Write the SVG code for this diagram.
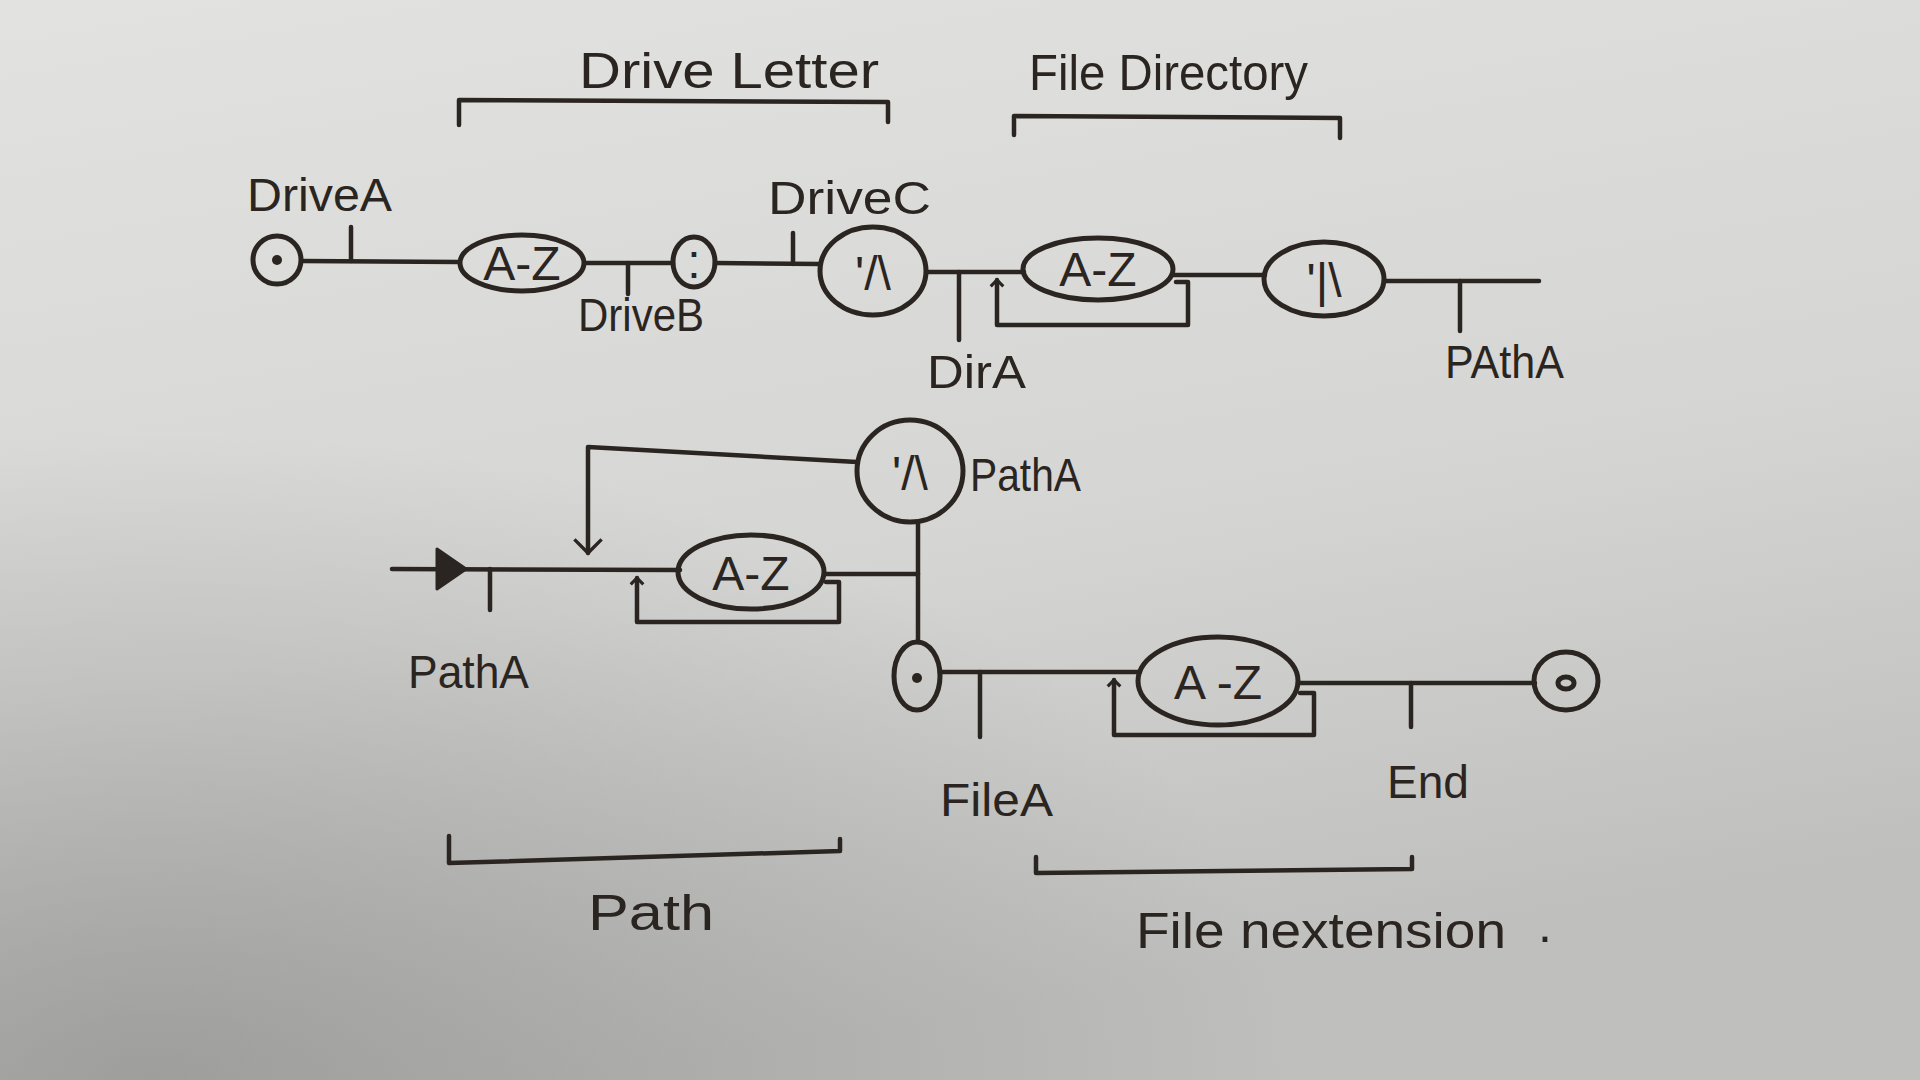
<svg xmlns="http://www.w3.org/2000/svg" width="1920" height="1080" viewBox="0 0 1920 1080">
<defs>
<linearGradient id="paper" x1="0" y1="0" x2="0.3" y2="1">
<stop offset="0" stop-color="#e2e2e0"/>
<stop offset="0.6" stop-color="#d5d5d3"/>
<stop offset="1" stop-color="#bfbfbd"/>
</linearGradient>
<radialGradient id="shade" cx="0.08" cy="1" r="0.6">
<stop offset="0" stop-color="#8a8a88" stop-opacity="0.65"/>
<stop offset="1" stop-color="#8a8a88" stop-opacity="0"/>
</radialGradient>
<marker id="up" viewBox="0 0 20 20" refX="10" refY="10" markerWidth="18" markerHeight="18" markerUnits="userSpaceOnUse" orient="auto">
<path d="M3,3 L10,10 L3,17" fill="none" stroke="#2b2521" stroke-width="3.5"/>
</marker>
<marker id="down" viewBox="0 0 20 20" refX="10" refY="10" markerWidth="34" markerHeight="34" markerUnits="userSpaceOnUse" orient="auto">
<path d="M2,2 L10,10 L2,18" fill="none" stroke="#2b2521" stroke-width="2"/>
</marker>
<style>
.ln{fill:none;stroke:#2b2521;stroke-width:4.5;stroke-linecap:round;stroke-linejoin:round}
.nd{fill:none;stroke:#2b2521;stroke-width:5}
.dot{fill:#2b2521}
.t{font-family:"Liberation Sans","DejaVu Sans",sans-serif;fill:#2b2521}
.lb{font-size:46px}
.in{font-size:48px;text-anchor:middle}
.hd{font-size:50px}
</style>
</defs>
<rect width="1920" height="1080" fill="url(#paper)"/>
<rect width="1920" height="1080" fill="url(#shade)"/>

<g id="connectors">
<path class="ln" d="M301,261 L459,262"/>
<path class="ln" d="M351,227 L351,261"/>
<path class="ln" d="M585,263 L673,263"/>
<path class="ln" d="M628,263 L628,294"/>
<path class="ln" d="M715,263 L820,264"/>
<path class="ln" d="M793,233 L793,264"/>
<path class="ln" d="M927,272 L1024,272"/>
<path class="ln" d="M959,272 L959,340"/>
<path class="ln" marker-end="url(#up)" d="M1176,282 L1188,282 L1188,325 L997,325 L997,280"/>
<path class="ln" d="M1173,275 L1265,275"/>
<path class="ln" d="M1384,281 L1539,281"/>
<path class="ln" d="M1460,281 L1460,331"/>
<path class="ln" d="M459,125 L459,100 L888,102 L888,122"/>
<path class="ln" d="M1014,135 L1014,116 L1340,118 L1340,138"/>
<path class="ln" marker-end="url(#down)" d="M857,462 L588,447 L588,553"/>
<path class="ln" d="M392,569 L680,570"/>
<polygon points="437,549 466,569 437,589" fill="#2b2521" stroke="#2b2521" stroke-width="3" stroke-linejoin="round"/>
<path class="ln" d="M490,569 L490,610"/>
<path class="ln" marker-end="url(#up)" d="M826,582 L839,582 L839,622 L637,622 L637,578"/>
<path class="ln" d="M824,574 L918,574"/>
<path class="ln" d="M918,523 L918,642"/>
<path class="ln" d="M940,672 L1140,672"/>
<path class="ln" d="M980,672 L980,737"/>
<path class="ln" marker-end="url(#up)" d="M1300,693 L1314,693 L1314,735 L1114,735 L1114,680"/>
<path class="ln" d="M1298,683 L1535,683"/>
<path class="ln" d="M1411,683 L1411,727"/>
<path class="ln" d="M449,836 L449,863 L840,851 L840,839"/>
<path class="ln" d="M1036,857 L1036,873 L1412,869 L1412,857"/>
</g>

<g id="start-top">
<ellipse class="nd" cx="277" cy="260" rx="24" ry="24"/>
<circle class="dot" cx="277" cy="260" r="5"/>
</g>
<g id="az-drive">
<ellipse class="nd" cx="522" cy="263" rx="62" ry="28"/>
<text class="t in" x="522" y="280" font-size="44">A-Z</text>
</g>
<g id="colon">
<ellipse class="nd" cx="694" cy="262" rx="21" ry="25"/>
<text class="t in" x="694" y="278">:</text>
</g>
<g id="sep-drive">
<ellipse class="nd" cx="873" cy="271" rx="53" ry="44"/>
<text class="t in" x="873" y="290" font-size="52">'/\</text>
</g>
<g id="az-dir">
<ellipse class="nd" cx="1098" cy="269" rx="75" ry="31"/>
<text class="t in" x="1098" y="286">A-Z</text>
</g>
<g id="sep-dir">
<ellipse class="nd" cx="1324" cy="279" rx="60" ry="37"/>
<text class="t in" x="1324" y="297" font-size="50">'|\</text>
</g>
<g id="sep-path">
<ellipse class="nd" cx="910" cy="471" rx="53" ry="51"/>
<text class="t in" x="910" y="490" font-size="54">'/\</text>
</g>
<g id="az-path">
<ellipse class="nd" cx="751" cy="572" rx="73" ry="37"/>
<text class="t in" x="751" y="590">A-Z</text>
</g>
<g id="start-file">
<ellipse class="nd" cx="917" cy="676" rx="23" ry="34"/>
<circle class="dot" cx="917" cy="678" r="5"/>
</g>
<g id="az-ext">
<ellipse class="nd" cx="1218" cy="681" rx="80" ry="44"/>
<text class="t in" x="1218" y="699" font-size="50">A -Z</text>
</g>
<g id="end">
<ellipse class="nd" cx="1566" cy="681" rx="32" ry="29"/>
<ellipse class="nd" cx="1566" cy="683" rx="8" ry="6" stroke-width="4"/>
</g>

<g id="labels">
<text class="t lb" x="247" y="211" textLength="145" lengthAdjust="spacingAndGlyphs">DriveA</text>
<text class="t lb" x="578" y="331" textLength="126" lengthAdjust="spacingAndGlyphs">DriveB</text>
<text class="t lb" x="768" y="214" textLength="163" lengthAdjust="spacingAndGlyphs">DriveC</text>
<text class="t lb" x="927" y="388" textLength="99" lengthAdjust="spacingAndGlyphs">DirA</text>
<text class="t lb" x="1445" y="378" textLength="119" lengthAdjust="spacingAndGlyphs">PAthA</text>
<text class="t lb" x="970" y="491" textLength="111" lengthAdjust="spacingAndGlyphs">PathA</text>
<text class="t lb" x="408" y="688" textLength="121" lengthAdjust="spacingAndGlyphs">PathA</text>
<text class="t lb" x="940" y="816" textLength="113" lengthAdjust="spacingAndGlyphs">FileA</text>
<text class="t lb" x="1387" y="798" textLength="82" lengthAdjust="spacingAndGlyphs">End</text>
<text class="t hd" x="579" y="88" textLength="300" lengthAdjust="spacingAndGlyphs">Drive Letter</text>
<text class="t hd" x="1029" y="90" textLength="279" lengthAdjust="spacingAndGlyphs">File Directory</text>
<text class="t hd" x="588" y="930" textLength="126" lengthAdjust="spacingAndGlyphs">Path</text>
<text class="t hd" x="1136" y="948" textLength="370" lengthAdjust="spacingAndGlyphs">File nextension</text>
<text class="t hd" x="1538" y="942">.</text>
</g>
</svg>
